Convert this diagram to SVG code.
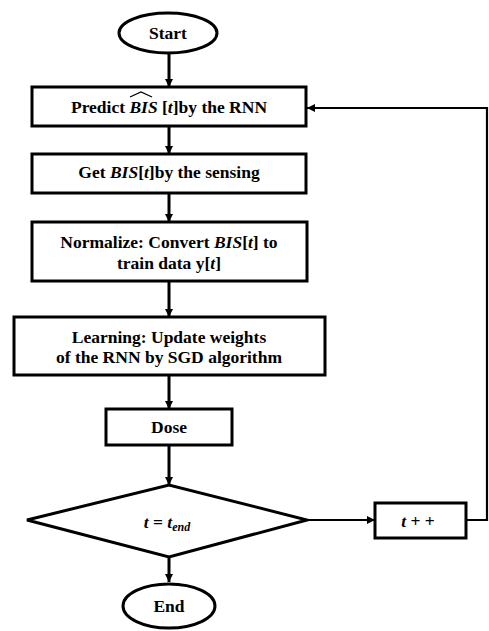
<svg xmlns="http://www.w3.org/2000/svg" width="489" height="631" viewBox="0 0 489 631">
<defs>
<marker id="ah" viewBox="0 0 10 10" refX="10" refY="5" markerWidth="8" markerHeight="8" markerUnits="userSpaceOnUse" orient="auto">
<path d="M0,0 L10,5 L0,10 z" fill="#000"/>
</marker>
<style>
.shape{fill:#fff;stroke:#000;stroke-width:3}
.t{font-family:"Liberation Serif","Times New Roman",serif;font-weight:bold;font-size:17.5px;fill:#000;text-anchor:middle}
.m{font-style:italic}
.c{fill:none;stroke:#000;stroke-width:3}
.c2{fill:none;stroke:#000;stroke-width:2.2}
</style>
</defs>
<rect width="489" height="631" fill="#fff"/>
<g id="connectors">
<line class="c" x1="169" y1="53" x2="169" y2="87" marker-end="url(#ah)"/>
<line class="c" x1="169" y1="126" x2="169" y2="154" marker-end="url(#ah)"/>
<line class="c" x1="169" y1="193" x2="169" y2="222" marker-end="url(#ah)"/>
<line class="c" x1="169" y1="281" x2="169" y2="317" marker-end="url(#ah)"/>
<line class="c" x1="169" y1="375" x2="169" y2="409" marker-end="url(#ah)"/>
<line class="c" x1="169" y1="445" x2="169" y2="485" marker-end="url(#ah)"/>
<line class="c" x1="169" y1="557" x2="169" y2="582" marker-end="url(#ah)"/>
<line class="c2" x1="307" y1="520" x2="375" y2="520" marker-end="url(#ah)"/>
<polyline class="c2" points="466,520 487,520 487,108 307,108" marker-end="url(#ah)"/>
</g>
<g id="start">
<ellipse class="shape" cx="168" cy="33" rx="49" ry="20"/>
<text class="t" x="168" y="39">Start</text>
</g>
<g id="predict">
<rect class="shape" x="32" y="87" width="274" height="39"/>
<text class="t" x="169" y="113">Predict <tspan class="m">BIS</tspan> [<tspan class="m">t</tspan>]by the RNN</text>
<polyline points="130,97 141,92 152,97" fill="none" stroke="#000" stroke-width="1.3"/>
</g>
<g id="sensing">
<rect class="shape" x="32" y="154" width="274" height="39"/>
<text class="t" x="169" y="178">Get <tspan class="m">BIS</tspan>[<tspan class="m">t</tspan>]by the sensing</text>
</g>
<g id="normalize">
<rect class="shape" x="32" y="222" width="275" height="59"/>
<text class="t" x="169" y="248">Normalize:  Convert <tspan class="m">BIS</tspan>[<tspan class="m">t</tspan>] to</text>
<text class="t" x="169" y="269">train data y[<tspan class="m">t</tspan>]</text>
</g>
<g id="learning">
<rect class="shape" x="14" y="317" width="311" height="58"/>
<text class="t" x="169" y="343">Learning: Update weights</text>
<text class="t" x="169" y="363">of the RNN by SGD algorithm</text>
</g>
<g id="dose">
<rect class="shape" x="106" y="409" width="126" height="36"/>
<text class="t" x="169" y="433">Dose</text>
</g>
<g id="decision">
<polygon class="shape" points="27,520 169,485 307,520 169,557"/>
<text class="t" x="167" y="528"><tspan class="m">t</tspan> = <tspan class="m">t</tspan><tspan class="m" font-size="12" dy="3">end</tspan></text>
</g>
<g id="increment">
<rect class="shape" x="375" y="503" width="91" height="35"/>
<text class="t" x="418" y="527"><tspan class="m">t</tspan> + +</text>
</g>
<g id="end">
<ellipse class="shape" cx="169" cy="606" rx="46" ry="22"/>
<text class="t" x="169" y="612">End</text>
</g>
</svg>
